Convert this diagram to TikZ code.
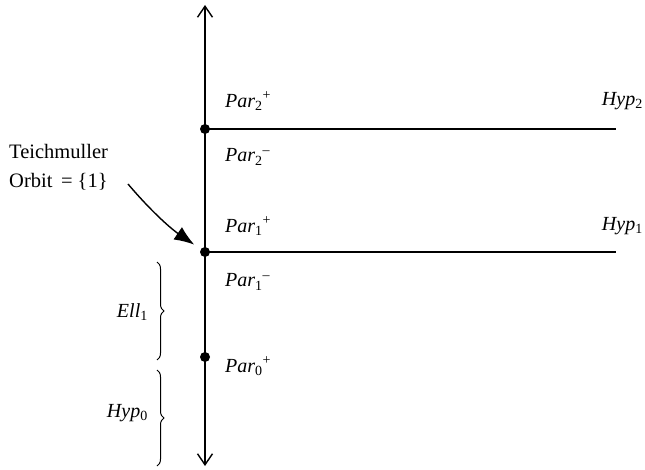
\documentclass[tikz,border=0pt]{standalone}
\usepackage{fontspec}
\setmainfont{Liberation Serif}
\usetikzlibrary{arrows.meta,decorations.pathreplacing}
\begin{document}
\begin{tikzpicture}[x=1pt,y=-1pt,
  lbl/.style={font=\fontsize{20}{22}\selectfont\itshape, inner sep=0pt},
  txt/.style={font=\fontsize{20.5}{29}\selectfont, inner sep=0pt, align=left},
  axis/.style={line width=1.4pt},
  dotm/.style={circle, fill=black, inner sep=0pt, minimum size=10pt},
  br/.style={decorate, decoration={brace, amplitude=7pt}, line width=1pt}]
\useasboundingbox (0,0) rectangle (645,470);
\coordinate (top) at (205,5);
\coordinate (bot) at (205,466);
\draw[axis, {Straight Barb[length=11pt,width=15pt]}-{Straight Barb[length=11pt,width=15pt]}] (bot) -- (top);
\node[dotm] (p2) at (205,129) {};
\node[dotm] (p1) at (205,252) {};
\node[dotm] (p0) at (205,357) {};
\coordinate (e2) at (616,129);
\coordinate (e1) at (616,252);
\draw[line width=1.2pt] (p2.center) -- (e2);
\draw[line width=1.2pt] (p1.center) -- (e1);
\node[lbl, anchor=west] (l2p) at (225,101) {Par\textsubscript{\upshape 2}\textsuperscript{\upshape +}};
\node[lbl, anchor=west] (l2m) at (225,157) {Par\textsubscript{\upshape 2}\textsuperscript{\upshape --}};
\node[lbl, anchor=west] (l1p) at (225,226) {Par\textsubscript{\upshape 1}\textsuperscript{\upshape +}};
\node[lbl, anchor=west] (l1m) at (225,282) {Par\textsubscript{\upshape 1}\textsuperscript{\upshape --}};
\node[lbl, anchor=west] (l0p) at (225,366) {Par\textsubscript{\upshape 0}\textsuperscript{\upshape +}};
\node[lbl, anchor=east] (h2) at (643,101) {Hyp\textsubscript{\upshape 2}};
\node[lbl, anchor=east] (h1) at (643,226) {Hyp\textsubscript{\upshape 1}};
\coordinate (b1a) at (157,262);
\coordinate (b1b) at (157,360);
\coordinate (b0a) at (157,370);
\coordinate (b0b) at (157,466);
\draw[br] (b1a) -- (b1b);
\draw[br] (b0a) -- (b0b);
\node[lbl, anchor=east] (ell) at (148,312) {Ell\textsubscript{\upshape 1}};
\node[lbl, anchor=east] (hyp0) at (148,413) {Hyp\textsubscript{\upshape 0}};
\node[txt, anchor=north west] (teich) at (9,144) {Teichmuller\\Orbit \,= \{1\}};
\coordinate (as) at (128,184);
\draw[line width=1.4pt, -{Latex[length=20pt,width=15pt]}, shorten >=13pt] (as) .. controls (150,210) and (170,228) .. (p1.center);
\end{tikzpicture}
\end{document}
